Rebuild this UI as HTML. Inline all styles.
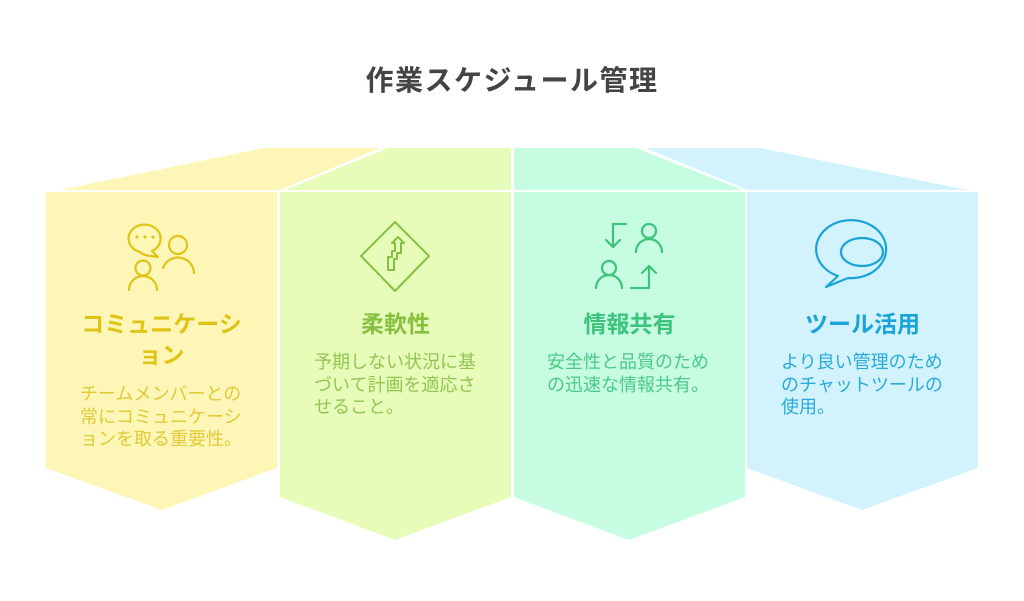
<!DOCTYPE html>
<html><head><meta charset="utf-8"><style>
body{margin:0;width:1024px;height:601px;background:#fff;position:relative;overflow:hidden;font-family:"Liberation Sans","Noto Sans CJK JP",sans-serif}
.t{position:absolute;text-align:center;font-weight:bold;font-size:23px;line-height:31px;white-space:nowrap}
.b{position:absolute;font-size:18px;line-height:22.5px;white-space:nowrap}
</style></head><body>
<svg width="1024" height="601" style="position:absolute;left:0;top:0">
<polygon points="60,190 264,148 380,148 280,190" fill="#FEF6B6"/>
<polygon points="285,190 388,148 511,148 511,190" fill="#E8FCB9"/>
<polygon points="514,190 514,148 636,148 743,190" fill="#C6FCE1"/>
<polygon points="748,190 645,148 760,148 967,190" fill="#D2F3FD"/>
<polygon points="46,192 277,192 277,468 162,510 46,468" fill="#FEF6B6"/>
<polygon points="280,192 511,192 511,497 395,540 280,497" fill="#E8FCB9"/>
<polygon points="514,192 745,192 745,497 629,540 514,497" fill="#C6FCE1"/>
<polygon points="747,192 978,192 978,468 862,510 747,468" fill="#D2F3FD"/>
<g fill="none" stroke="#DFC416" stroke-width="2.2" stroke-linecap="round" stroke-linejoin="round">
<path d="M140,252 A16,14 0 1 1 152,251 L158,257 L151,256 A16,14 0 0 1 140,252"/>
<circle cx="178" cy="245" r="9"/><path d="M163,268 a16,16 0 0 1 31,5"/>
<circle cx="143" cy="268" r="7.5"/><path d="M129,290 a14,14 0 0 1 28,0"/>
</g>
<g fill="#DFC416"><circle cx="137" cy="237" r="1.5"/><circle cx="145" cy="237" r="1.5"/><circle cx="153" cy="237" r="1.5"/></g>
<g fill="none" stroke="#86C03E" stroke-width="2" stroke-linejoin="round">
<path d="M395,222 L429,256 L395,291 L361,256 Z"/>
<path d="M388,270 v-13 h4 v-6 h3 v-8 h-3 l6,-6 6,6 h-3 v10 h-4 v6 h-3 v11 z"/>
</g>
<g fill="none" stroke="#3CC47C" stroke-width="2.2" stroke-linecap="round" stroke-linejoin="round">
<path d="M626,224 h-13 v23 M606,240 l7,7 7,-7"/>
<circle cx="649" cy="231" r="7"/><path d="M636,252 a13,13 0 0 1 26,0"/>
<circle cx="609" cy="268" r="7"/><path d="M596,288 a13,13 0 0 1 26,0"/>
<path d="M631,288 h18 v-22 M642,273 l7,-7 7,7"/>
</g>
<g fill="none" stroke="#1AA3D8" stroke-width="2.2" stroke-linejoin="round">
<path d="M838,276 a35,29 0 1 1 10,2 l-22,9 z"/>
<ellipse cx="862" cy="252" rx="21" ry="14"/>
</g>
</svg>
<div style="position:absolute;left:0;width:1024px;top:62px;text-align:center;font-size:28px;letter-spacing:1.5px;font-weight:bold;color:#444;line-height:38px">作業スケジュール管理</div>
<div class="t" style="left:46px;width:231px;top:309px;color:#DFC416">コミュニケーシ<br>ョン</div>
<div class="b" style="left:80px;top:383px;color:#E2C93A">チームメンバーとの<br>常にコミュニケーシ<br>ョンを取る重要性。</div>
<div class="t" style="left:280px;width:231px;top:309px;color:#86C03E">柔軟性</div>
<div class="b" style="left:314px;top:351px;color:#92C653">予期しない状況に基<br>づいて計画を適応さ<br>せること。</div>
<div class="t" style="left:514px;width:231px;top:309px;color:#3CC47C">情報共有</div>
<div class="b" style="left:547px;top:351px;color:#4CC987">安全性と品質のため<br>の迅速な情報共有。</div>
<div class="t" style="left:747px;width:231px;top:309px;color:#1AA3D8">ツール活用</div>
<div class="b" style="left:781px;top:351px;color:#2AAADB">より良い管理のため<br>のチャットツールの<br>使用。</div>
</body></html>
